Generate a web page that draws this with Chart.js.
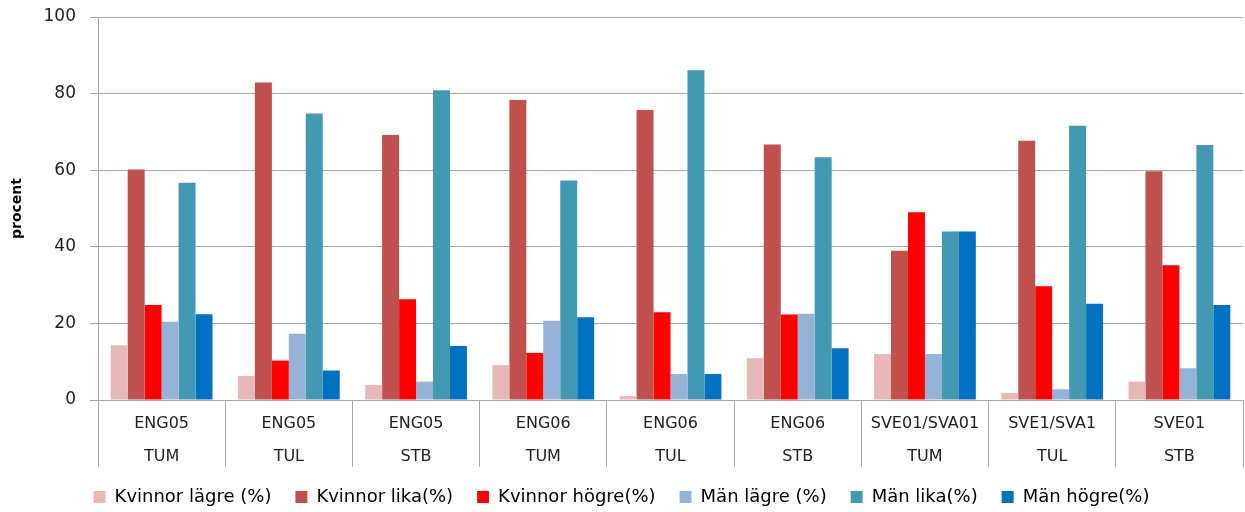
<!DOCTYPE html>
<html>
<head>
<meta charset="utf-8">
<script src="https://cdn.jsdelivr.net/npm/chart.js@4/dist/chart.umd.min.js"></script>
<style>
  html, body { margin: 0; padding: 0; background: #fff; }
  #wrap { width: 1245px; height: 512px; position: relative; }
</style>
</head>
<body>
<div id="wrap"><canvas id="chart"></canvas></div>
<script>
  // data
  const courses = ['ENG05', 'ENG05', 'ENG05', 'ENG06', 'ENG06', 'ENG06', 'SVE01/SVA01', 'SVE1/SVA1', 'SVE01'];
  const groups = ['TUM', 'TUL', 'STB', 'TUM', 'TUL', 'STB', 'TUM', 'TUL', 'STB'];
  const seriesNames = ['Kvinnor lägre (%)', 'Kvinnor lika(%)', 'Kvinnor högre(%)', 'Män lägre (%)', 'Män lika(%)', 'Män högre(%)'];
  const kvinnorLagre = [14.3, 6.3, 3.9, 9.1, 1.0, 10.9, 12.0, 1.8, 4.8];
  const kvinnorLika = [60.2, 82.9, 69.2, 78.3, 75.7, 66.7, 39.0, 67.7, 59.7];
  const kvinnorHogre = [24.8, 10.3, 26.3, 12.3, 22.9, 22.3, 49.0, 29.7, 35.2];
  const manLagre = [20.4, 17.3, 4.8, 20.7, 6.8, 22.5, 12.0, 2.8, 8.3];
  const manLika = [56.7, 74.8, 80.9, 57.3, 86.1, 63.4, 44.0, 71.6, 66.6];
  const manHogre = [22.4, 7.7, 14.1, 21.6, 6.8, 13.5, 44.0, 25.1, 24.8];
  const yTicks = [0, 20, 40, 60, 80, 100];

  const colors = ['#E6B9B8', '#C0504D', '#FF0000', '#95B3D7', '#4399B1', '#0070C0'];
  const values = [kvinnorLagre, kvinnorLika, kvinnorHogre, manLagre, manLika, manHogre];

  const labels = courses.map((c, i) => [c, groups[i]]);
  const font = '"DejaVu Sans", sans-serif';
  const gridGray = '#A6A6A6';

  new Chart(document.getElementById('chart'), {
    type: 'bar',
    data: {
      labels: labels,
      datasets: seriesNames.map((name, i) => ({
        label: name,
        data: values[i],
        backgroundColor: colors[i],
        borderWidth: 0,
        categoryPercentage: 0.8,
        barPercentage: 1.0
      }))
    },
    options: {
      responsive: true,
      maintainAspectRatio: false,
      animation: false,
      layout: { padding: { top: 17, right: 2, left: 0, bottom: 0 } },
      plugins: {
        tooltip: { enabled: false },
        legend: {
          position: 'bottom',
          maxHeight: 48,
          labels: {
            boxWidth: 12,
            boxHeight: 12,
            padding: 24,
            color: '#000',
            font: { family: font, size: 18 }
          }
        }
      },
      scales: {
        x: {
          grid: {
            offset: true,
            drawOnChartArea: false,
            tickLength: 67,
            color: gridGray
          },
          border: { color: gridGray },
          ticks: {
            color: '#222',
            padding: -60,
            maxRotation: 0,
            font: { family: font, size: 16, lineHeight: 2.06 }
          },
          afterFit: function (scale) { scale.height = 64; }
        },
        y: {
          min: 0,
          max: 100,
          afterBuildTicks: function (scale) {
            scale.ticks = yTicks.map(v => ({ value: v }));
          },
          grid: { color: gridGray, tickLength: 8 },
          border: { color: gridGray },
          ticks: {
            color: '#222',
            padding: 14,
            font: { family: font, size: 17 }
          },
          title: {
            display: true,
            text: 'procent',
            color: '#000',
            font: { family: font, size: 14, weight: 'bold' },
            padding: { top: 9, bottom: 0 }
          },
          afterFit: function (scale) {
            scale.width = 98;
            scale.paddingTop = 0;
          }
        }
      }
    }
  });
</script>
</body>
</html>
